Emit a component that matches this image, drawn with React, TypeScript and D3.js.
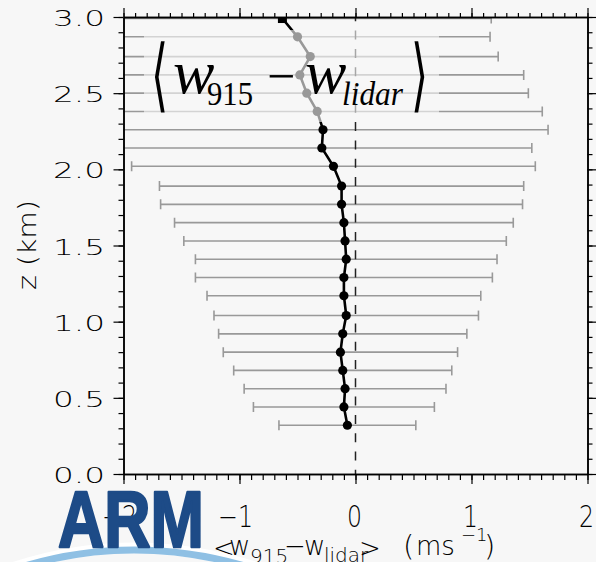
import React, { useEffect, useRef } from 'react';
import * as d3 from 'd3';

// profile levels (km) and <w915 - wlidar> statistics (m/s)
const heights = [0.32, 0.44, 0.56, 0.68, 0.8, 0.92, 1.04, 1.17, 1.29, 1.41, 1.53, 1.65, 1.77, 1.89, 2.02, 2.14, 2.26, 2.38, 2.5, 2.62, 2.74, 2.87, 2.99];
const meanDiff = [-0.07, -0.1, -0.09, -0.11, -0.13, -0.11, -0.08, -0.1, -0.1, -0.08, -0.09, -0.1, -0.12, -0.12, -0.19, -0.29, -0.28, -0.33, -0.42, -0.48, -0.39, -0.5, -0.63];
const stdDiff = [0.59, 0.78, 0.87, 0.94, 1.01, 1.07, 1.14, 1.18, 1.28, 1.3, 1.39, 1.46, 1.56, 1.57, 1.74, 1.81, 1.94, 1.94, 1.91, 1.93, 1.62, 1.66, 1.8];

const xTicks = [-2, -1, 0, 1, 2];
const yTicks = [0, 0.5, 1, 1.5, 2, 2.5, 3];
const xMinor = d3.range(-20, 21).map((i) => i / 10);
const yMinor = d3.range(0, 31).map((i) => i / 10);

const width = 596;
const height = 562;
const margin = { top: 17, right: 8.5, bottom: 88, left: 123.5 };
const lightFont = '"DejaVu Sans", sans-serif';

const App = () => {
  const chartRef = useRef<SVGSVGElement>(null);

  useEffect(() => {
    const root = d3.select(chartRef.current);
    root.selectAll('*').remove();

    const x = d3.scaleLinear().domain([-2, 2]).range([margin.left, width - margin.right]);
    const y = d3.scaleLinear().domain([0, 3]).range([height - margin.bottom, margin.top]);

    root.append('rect').attr('width', width).attr('height', height).attr('fill', '#f7f7f7');

    root
      .append('clipPath')
      .attr('id', 'plotclip')
      .append('rect')
      .attr('x', margin.left)
      .attr('y', margin.top)
      .attr('width', x(2) - x(-2))
      .attr('height', y(0) - y(3));

    const data = heights.map((z, i) => ({ z, m: meanDiff[i], s: stdDiff[i] }));
    const plot = root.append('g').attr('clip-path', 'url(#plotclip)');

    // error bars
    const bars = plot.append('g').attr('stroke', '#999').attr('stroke-width', 1.6);
    bars
      .selectAll('line.bar')
      .data(data)
      .enter()
      .append('line')
      .attr('x1', (d) => x(d.m - d.s))
      .attr('x2', (d) => x(d.m + d.s))
      .attr('y1', (d) => y(d.z))
      .attr('y2', (d) => y(d.z));
    const caps = data.flatMap((d) => [
      { v: d.m - d.s, z: d.z },
      { v: d.m + d.s, z: d.z },
    ]).filter((c) => c.v > -2 && c.v < 2);
    bars
      .selectAll('line.cap')
      .data(caps)
      .enter()
      .append('line')
      .attr('x1', (d) => x(d.v))
      .attr('x2', (d) => x(d.v))
      .attr('y1', (d) => y(d.z) - 5)
      .attr('y2', (d) => y(d.z) + 5);

    // zero line
    plot
      .append('line')
      .attr('x1', x(0))
      .attr('x2', x(0))
      .attr('y1', y(0))
      .attr('y2', y(3))
      .attr('stroke', '#222')
      .attr('stroke-width', 1.5)
      .attr('stroke-dasharray', '9,9.3')
      .attr('stroke-dashoffset', 4.8);

    // mean profile
    plot
      .append('path')
      .datum(data)
      .attr('fill', 'none')
      .attr('stroke', '#000')
      .attr('stroke-width', 2.6)
      .attr(
        'd',
        d3
          .line<{ z: number; m: number }>()
          .x((d) => x(d.m))
          .y((d) => y(d.z)),
      );
    const last = data.length - 1;
    plot
      .append('g')
      .selectAll('circle')
      .data(data.slice(0, last))
      .enter()
      .append('circle')
      .attr('cx', (d) => x(d.m))
      .attr('cy', (d) => y(d.z))
      .attr('r', 4.6)
      .attr('fill', '#000');
    plot
      .append('rect')
      .attr('x', x(data[last].m) - 4.5)
      .attr('y', y(data[last].z) - 4.5)
      .attr('width', 9)
      .attr('height', 9)
      .attr('fill', '#000');

    // title box (semi transparent)
    root
      .append('rect')
      .attr('x', 144)
      .attr('y', 30)
      .attr('width', 295)
      .attr('height', 92)
      .attr('fill', '#f7f7f7')
      .attr('opacity', 0.62);

    const title = root.append('g').attr('fill', '#000').attr('font-family', '"Liberation Serif", serif').attr('font-style', 'italic');
    root
      .append('text')
      .attr('x', 160)
      .attr('y', 102)
      .attr('font-family', lightFont)
      .attr('font-weight', 200)
      .attr('font-size', 80)
      .attr('text-anchor', 'middle')
      .attr('transform', 'translate(160,0) scale(0.55,1) translate(-160,0)')
      .text('⟨');
    root
      .append('text')
      .attr('x', 420)
      .attr('y', 102)
      .attr('font-family', lightFont)
      .attr('font-weight', 200)
      .attr('font-size', 80)
      .attr('text-anchor', 'middle')
      .attr('transform', 'translate(420,0) scale(0.55,1) translate(-420,0)')
      .text('⟩');
    title.append('text').attr('x', 173).attr('y', 93).attr('font-size', 62).text('w');
    title
      .append('text')
      .attr('x', 207)
      .attr('y', 105)
      .attr('font-size', 34)
      .attr('font-style', 'normal')
      .attr('textLength', 46)
      .attr('lengthAdjust', 'spacingAndGlyphs')
      .text('915');
    title.append('text').attr('x', 267).attr('y', 93).attr('font-size', 50).attr('font-style', 'normal').text('−');
    title.append('text').attr('x', 305).attr('y', 93).attr('font-size', 62).text('w');
    title
      .append('text')
      .attr('x', 342)
      .attr('y', 105)
      .attr('font-size', 34)
      .attr('textLength', 61)
      .attr('lengthAdjust', 'spacingAndGlyphs')
      .text('lidar');

    // axes: minor + major ticks on all four sides
    const axisStyle = (g: d3.Selection<SVGGElement, unknown, null, undefined>) => {
      g.selectAll('text').remove();
      g.select('.domain').attr('stroke-width', 1.5);
      g.selectAll('.tick line').attr('stroke-width', 1.2);
    };
    const bottom = y(0);
    const top = y(3);
    const left = x(-2);
    const right = x(2);
    root.append('g').attr('transform', `translate(0,${bottom})`).call(d3.axisBottom(x).tickValues(xMinor).tickSize(6).tickSizeOuter(0)).call(axisStyle);
    root.append('g').attr('transform', `translate(0,${bottom})`).call(d3.axisBottom(x).tickValues(xTicks).tickSize(10).tickSizeOuter(0)).call(axisStyle);
    root.append('g').attr('transform', `translate(0,${top})`).call(d3.axisTop(x).tickValues(xMinor).tickSize(4).tickSizeOuter(0)).call(axisStyle);
    root.append('g').attr('transform', `translate(0,${top})`).call(d3.axisTop(x).tickValues(xTicks).tickSize(9).tickSizeOuter(0)).call(axisStyle);
    root.append('g').attr('transform', `translate(${left},0)`).call(d3.axisLeft(y).tickValues(yMinor).tickSize(5).tickSizeOuter(0)).call(axisStyle);
    root.append('g').attr('transform', `translate(${left},0)`).call(d3.axisLeft(y).tickValues(yTicks).tickSize(10).tickSizeOuter(0)).call(axisStyle);
    root.append('g').attr('transform', `translate(${right},0)`).call(d3.axisRight(y).tickValues(yMinor).tickSize(5).tickSizeOuter(0)).call(axisStyle);
    root.append('g').attr('transform', `translate(${right},0)`).call(d3.axisRight(y).tickValues(yTicks).tickSize(9).tickSizeOuter(0)).call(axisStyle);

    // tick labels
    const fy = d3.format('.1f');
    root
      .append('g')
      .selectAll('text')
      .data(yTicks)
      .enter()
      .append('text')
      .attr('x', 105)
      .attr('y', (d) => y(d) + 9)
      .attr('text-anchor', 'end')
      .attr('font-family', lightFont)
      .attr('font-weight', 200)
      .attr('font-size', 22)
      .attr('textLength', 52)
      .attr('lengthAdjust', 'spacingAndGlyphs')
      .attr('fill', '#000')
      .text((d) => fy(d));
    const fx = d3.format('d');
    root
      .append('g')
      .selectAll('text')
      .data(xTicks)
      .enter()
      .append('text')
      .attr('x', (d) => x(d) - (d < 0 ? 4 : 1))
      .attr('y', 527)
      .attr('text-anchor', 'middle')
      .attr('font-family', lightFont)
      .attr('font-weight', 200)
      .attr('font-size', 30)
      .attr('textLength', (d) => (d < 0 ? 35 : 15))
      .attr('lengthAdjust', 'spacingAndGlyphs')
      .attr('fill', '#000')
      .text((d) => fx(d));

    // axis titles
    root
      .append('text')
      .attr('transform', 'translate(36,245) rotate(-90)')
      .attr('text-anchor', 'middle')
      .attr('font-family', lightFont)
      .attr('font-weight', 200)
      .attr('font-size', 25)
      .attr('textLength', 90)
      .attr('lengthAdjust', 'spacingAndGlyphs')
      .attr('fill', '#000')
      .text('z (km)');

    const xt = root.append('text').attr('font-family', lightFont).attr('font-weight', 200).attr('fill', '#000');
    const parts = [
      { t: '<', x: 213, y: 557, s: 26 },
      { t: 'w', x: 229, y: 555, s: 26 },
      { t: '915', x: 250, y: 563, s: 20 },
      { t: '−', x: 284, y: 555, s: 26 },
      { t: 'w', x: 304, y: 555, s: 26 },
      { t: 'lidar', x: 324, y: 562, s: 20 },
      { t: '>', x: 359, y: 557, s: 26 },
      { t: '(', x: 403, y: 556, s: 29 },
      { t: 'ms', x: 416, y: 555, s: 26 },
      { t: '−1', x: 461, y: 541, s: 18 },
      { t: ')', x: 484, y: 556, s: 29 },
    ];
    parts.forEach((p) => {
      xt.append('tspan').attr('x', p.x).attr('y', p.y).attr('font-size', p.s).text(p.t);
    });

    // ARM logo
    const logo = root.append('g');
    logo
      .append('path')
      .attr('d', 'M 12 568 Q 133 528 258 568')
      .attr('fill', 'none')
      .attr('stroke', '#ffffff')
      .attr('stroke-width', 11);
    logo
      .append('path')
      .attr('d', 'M 12 570 Q 133 530 258 570')
      .attr('fill', 'none')
      .attr('stroke', '#8fc0e4')
      .attr('stroke-width', 7);
    logo
      .append('text')
      .attr('x', 58)
      .attr('y', 547)
      .attr('font-family', '"Liberation Sans", Arial, sans-serif')
      .attr('font-weight', 700)
      .attr('font-size', 79)
      .attr('textLength', 146)
      .attr('lengthAdjust', 'spacingAndGlyphs')
      .attr('fill', '#1d4b87')
      .attr('stroke', '#1d4b87')
      .attr('stroke-width', 2.5)
      .attr('stroke-linejoin', 'round')
      .text('ARM');
  }, []);

  return (
    <svg
      ref={chartRef}
      width={width}
      height={height}
      style={{ position: 'absolute', left: 0, top: 0, display: 'block' }}
    ></svg>
  );
};

export default App;
